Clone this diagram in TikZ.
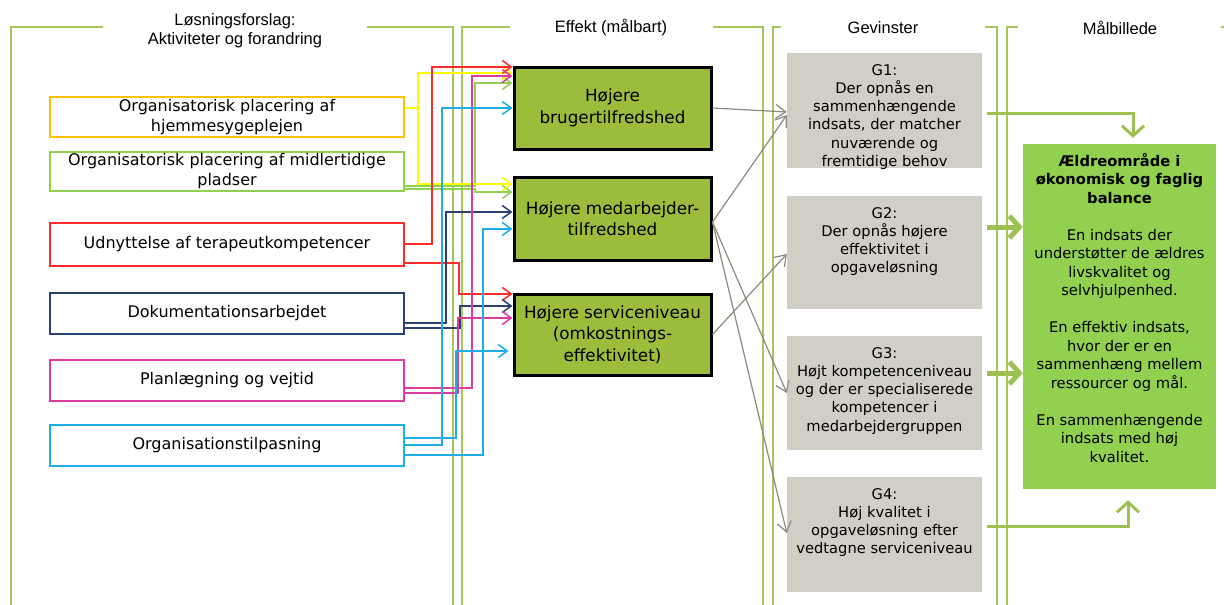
\documentclass[tikz,border=0pt]{standalone}
\usepackage{fontspec}
\setmainfont{DejaVu Sans}
\newfontfamily\hdrfont{Liberation Sans}
\usetikzlibrary{arrows.meta}

\definecolor{colline}{HTML}{A6C65A}
\definecolor{midfill}{HTML}{9CBD3C}
\definecolor{tgtfill}{HTML}{92D050}
\definecolor{grayfill}{HTML}{D0CEC5}
\definecolor{grayarrow}{HTML}{8A8A7E}
\definecolor{tgtarrow}{HTML}{9DC150}
\definecolor{cyel}{HTML}{FFFF00}
\definecolor{corange}{HTML}{FFC000}
\definecolor{cgrn}{HTML}{92D050}
\definecolor{cred}{HTML}{FF2A2A}
\definecolor{cnavy}{HTML}{2B4170}
\definecolor{cmag}{HTML}{DC3CA0}
\definecolor{ccyan}{HTML}{1FADE8}

% fixed-height box text, first baseline 22pt below the top edge
\newcommand\boxtext[3]{\parbox[c][#1][t]{#2}{\centering\rule{0pt}{22pt}#3}}

\begin{document}
\begin{tikzpicture}[x=1pt,y=-1pt,
  colframe/.style={draw=colline,line width=1.4pt},
  hdr/.style={align=center,font=\hdrfont\fontsize{16.5}{19}\selectfont},
  lbox/.style={draw,line width=1.5pt,fill=white,minimum width=354pt,inner sep=2pt,
    align=center,font=\fontsize{16}{20}\selectfont},
  mbox/.style={draw=black,line width=3pt,fill=midfill,minimum width=197pt,inner sep=2pt,
    align=center,font=\fontsize{16.8}{21.5}\selectfont},
  gbox/.style={fill=grayfill,inner sep=0pt,font=\fontsize{14.7}{18.3}\selectfont},
  tbox/.style={fill=tgtfill,inner sep=0pt,font=\fontsize{14.7}{18.5}\selectfont},
  conn/.style={line width=1.5pt,-{Straight Barb[length=9pt,width=13pt]}},
  garrow/.style={draw=grayarrow,line width=1.2pt,-{Straight Barb[length=10pt,width=14pt]}},
  tarrow/.style={draw=tgtarrow,line width=#1,shorten <=5pt,
    -{Straight Barb[length=10pt,width=22pt]}},
  tarrow/.default=3pt]
\useasboundingbox (0,0) rectangle (1224,605);

% column frames
\draw[colframe] (11,605) -- (11,27) -- (103,27);
\draw[colframe] (367,27) -- (453,27) -- (453,605);
\draw[colframe] (462,605) -- (462,27) -- (510,27);
\draw[colframe] (713,27) -- (763,27) -- (763,605);
\draw[colframe] (773,605) -- (773,27) -- (781,27);
\draw[colframe] (985,27) -- (997,27) -- (997,605);
\draw[colframe] (1007,605) -- (1007,27) -- (1018,27);
\draw[colframe] (1221,27) -- (1226,27);

% column titles
\node[hdr] (h1) at (235,31) {Løsningsforslag:\\Aktiviteter og forandring};
\node[hdr] (h2) at (611,28) {Effekt (målbart)};
\node[hdr] (h3) at (883,28) {Gevinster};
\node[hdr] (h4) at (1120,28) {Målbillede};

% activities
\node[lbox,draw=corange,minimum height=40pt] (l1) at (227,117) {Organisatorisk placering af\\hjemmesygeplejen};
\node[lbox,draw=cgrn,minimum height=39pt] (l2) at (227,171.5) {Organisatorisk placering af midlertidige\\pladser};
\node[lbox,draw=cred,minimum height=43pt] (l3) at (227,244.5) {Udnyttelse af terapeutkompetencer};
\node[lbox,draw=cnavy,minimum height=41pt] (l4) at (227,313.5) {Dokumentationsarbejdet};
\node[lbox,draw=cmag,minimum height=41pt] (l5) at (227,380.5) {Planlægning og vejtid};
\node[lbox,draw=ccyan,minimum height=41pt] (l6) at (227,445.5) {Organisationstilpasning};

% effects
\node[mbox,minimum height=82pt] (m1) at (612.5,108) {Højere\\brugertilfredshed};
\node[mbox,minimum height=83pt] (m2) at (612.5,218.5) {Højere medarbejder-\\tilfredshed};
\node[mbox,minimum height=81pt] (m3) at (612.5,334.5) {Højere serviceniveau\\(omkostnings-\\effektivitet)};

% gains
\node[gbox] (g1) at (884.5,110.5) {\boxtext{115pt}{195pt}{G1:\\Der opnås en\\sammenhængende\\indsats, der matcher\\nuværende og\\fremtidige behov}};
\node[gbox] (g2) at (884.5,252.5) {\boxtext{113pt}{195pt}{G2:\\Der opnås højere\\effektivitet i\\opgaveløsning}};
\node[gbox] (g3) at (884.5,393) {\boxtext{114pt}{195pt}{G3:\\Højt kompetenceniveau\\og der er specialiserede\\kompetencer i\\medarbejdergruppen}};
\node[gbox] (g4) at (884.5,534.5) {\boxtext{115pt}{195pt}{G4:\\Høj kvalitet i\\opgaveløsning efter\\vedtagne serviceniveau}};

% target picture
\node[tbox] (t) at (1119.5,316.5) {\boxtext{345pt}{193pt}{\textbf{Ældreområde i}\\\textbf{økonomisk og faglig}\\\textbf{balance}\\[18.5pt]En indsats der\\understøtter de ældres\\livskvalitet og\\selvhjulpenhed.\\[18.5pt]En effektiv indsats,\\hvor der er en\\sammenhæng mellem\\ressourcer og mål.\\[18.5pt]En sammenhængende\\indsats med høj\\kvalitet.}};

% activities -> effects
\draw[conn,cgrn] (l2.east |- 0,186) -| (475,83) -- (m1.west |- 0,83);
\draw[conn,cgrn] (l2.east |- 0,189) -- (475,189) |- (m2.west |- 0,192);
\draw[conn,cyel] (l1.east |- 0,108) -- (418,108) |- (m1.west |- 0,73);
\draw[conn,cyel] (l1.east |- 0,108) -- (418,108) |- (m2.west |- 0,184);
\draw[conn,cred] (l3.east |- 0,244) -| (432,67) -- (m1.west |- 0,67);
\draw[conn,cred] (l3.east |- 0,263) -| (459,294) -- (m3.west |- 0,294);
\draw[conn,cnavy] (l4.east |- 0,323) -| (446,212) -- (m2.west |- 0,212);
\draw[conn,cnavy] (l4.east |- 0,328) -| (460,306) -- (m3.west |- 0,306);
\draw[conn,cmag] (l5.east |- 0,388) -| (472,76) -- (m1.west |- 0,76);
\draw[conn,cmag] (l5.east |- 0,393) -| (458,318) -- (m3.west |- 0,318);
\draw[conn,ccyan] (l6.east |- 0,445) -| (442,108) -- (m1.west |- 0,108);
\draw[conn,ccyan,shorten >=4pt] (l6.east |- 0,438) -| (456,351) -- (m3.west |- 0,351);
\draw[conn,ccyan] (l6.east |- 0,455) -| (483,229) -- (m2.west |- 0,229);

% effects -> gains
\draw[garrow] (m1.east) -- (g1.west |- 0,112);
\draw[garrow] (m2.east |- 0,222) -- (g1.west |- 0,115);
\draw[garrow] (m2.east |- 0,222) -- (g3.west |- 0,393);
\draw[garrow] (m2.east |- 0,222) -- (g4.west |- 0,533);
\draw[garrow] (m3.east) -- (g2.west |- 0,254);

% gains -> target picture
\draw[tarrow,shorten >=6pt] (g1.east |- 0,113) -| (t.north -| 1133,0);
\draw[tarrow=5pt] (g2.east |- 0,227) -- (t.west |- 0,227);
\draw[tarrow=5pt] (g3.east |- 0,373) -- (t.west |- 0,373);
\draw[tarrow,shorten >=11pt] (g4.east |- 0,526) -| (t.south -| 1128,0);
\end{tikzpicture}
\end{document}
